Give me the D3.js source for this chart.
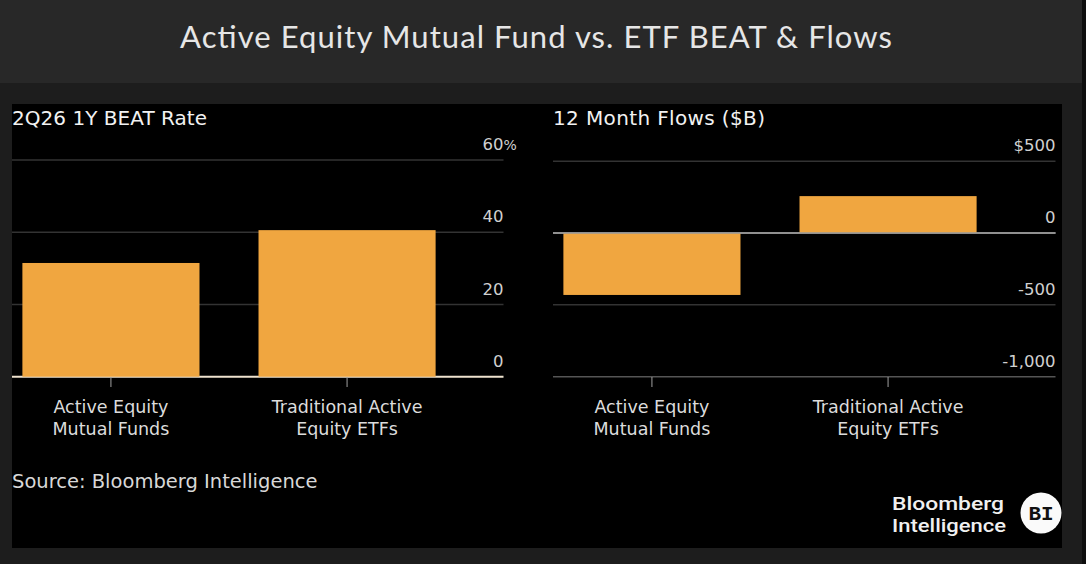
<!DOCTYPE html>
<html><head><meta charset="utf-8">
<script src="https://cdn.jsdelivr.net/npm/d3@7"></script>
<style>html,body{margin:0;padding:0;background:#1d1d1d;overflow:hidden}</style>
</head><body>
<script>
const categories = [["Active Equity","Mutual Funds"],["Traditional Active","Equity ETFs"]];
const categoryKeys = ["Active Equity Mutual Funds","Traditional Active Equity ETFs"];
const beatRate = [31.5, 40.6];
const flows = [-431, 257];
const beatTicks = [0, 20, 40, 60];
const beatTickLabels = ["0","20","40","60"];
const flowTicks = [-1000, -500, 0, 500];
const flowTickLabels = ["-1,000","-500","0","$500"];
const mainTitle = "Active Equity Mutual Fund vs. ETF BEAT & Flows";
const leftTitle = "2Q26 1Y BEAT Rate";
const rightTitle = "12 Month Flows ($B)";
const sourceText = "Source: Bloomberg Intelligence";

const W = 1086, H = 564;
const BAR = "#f0a640";
const FONT = "'DejaVu Sans', sans-serif";
const svg = d3.select("body").append("svg").attr("width", W).attr("height", H);

svg.append("rect").attr("width", W).attr("height", H).attr("fill", "#1d1d1d");
svg.append("rect").attr("width", 1082).attr("height", 83).attr("fill", "#282828");
svg.append("rect").attr("x", 1082).attr("width", 4).attr("height", H).attr("fill", "#0e0e0e");
svg.append("rect").attr("x", 12).attr("y", 104).attr("width", 1050).attr("height", 444).attr("fill", "#000");

svg.append("text").attr("x", 180).attr("y", 48)
  .attr("font-family", "Lato, 'Open Sans', sans-serif").attr("font-size", 31).attr("fill", "#e6e6e6")
  .attr("textLength", 712).attr("lengthAdjust", "spacing")
  .text(mainTitle);

function panel(opts) {
  const g = svg.append("g");
  const x = d3.scaleBand().domain(categoryKeys).range(opts.band).paddingInner(0.25).paddingOuter(0.044);
  const y = d3.scaleLinear().domain(opts.domain).range([376.7, opts.topY]);
  g.selectAll("line.grid").data(opts.ticks).join("line")
    .attr("x1", opts.band[0]).attr("x2", opts.gridEnd)
    .attr("y1", d => y(d)).attr("y2", d => y(d))
    .attr("stroke", d => opts.lineColor(d)).attr("stroke-width", d => opts.lineWidth(d));
  g.selectAll("rect.bar").data(opts.values).join("rect")
    .attr("x", (d, i) => x(categoryKeys[i])).attr("width", x.bandwidth())
    .attr("y", d => y(Math.max(0, d))).attr("height", d => Math.abs(y(d) - y(0)))
    .attr("fill", BAR);
  if (opts.zeroOnTop) {
    g.append("line").attr("x1", opts.band[0]).attr("x2", opts.gridEnd)
      .attr("y1", y(0)).attr("y2", y(0)).attr("stroke", "#9a9a9a").attr("stroke-width", 1.5);
  }
  g.selectAll("line.tick").data(categoryKeys).join("line")
    .attr("x1", d => x(d) + x.bandwidth() / 2).attr("x2", d => x(d) + x.bandwidth() / 2)
    .attr("y1", 377).attr("y2", 387).attr("stroke", "#a0a0a0").attr("stroke-width", 1);
  g.selectAll("text.yl").data(opts.ticks).join("text")
    .attr("x", opts.gridEnd).attr("y", d => y(d) - 10).attr("text-anchor", "end")
    .attr("font-family", FONT).attr("font-size", 16.5).attr("fill", "#d0d0d0")
    .text((d, i) => opts.tickLabels[i]);
  if (opts.suffix) {
    g.append("text").attr("x", opts.gridEnd).attr("y", y(opts.ticks[opts.ticks.length - 1]) - 10)
      .attr("font-family", FONT).attr("font-size", 14).attr("fill", "#d0d0d0").text(opts.suffix);
  }
  const cl = g.selectAll("text.cat").data(categories).join("text")
    .attr("text-anchor", "middle").attr("font-family", FONT).attr("font-size", 17.5).attr("fill", "#dcdcdc");
  cl.each(function(d, i) {
    const t = d3.select(this);
    const cx = x(categoryKeys[i]) + x.bandwidth() / 2;
    d.forEach((line, j) => t.append("tspan").attr("x", cx).attr("y", 413 + j * 22).text(line));
  });
  g.append("text").attr("x", opts.band[0]).attr("y", 124.5)
    .attr("font-family", FONT).attr("font-size", 20).attr("fill", "#f2f2f2")
    .attr("textLength", opts.titleLen).attr("lengthAdjust", "spacing").text(opts.title);
}

panel({
  band: [12, 446], gridEnd: 503.5, domain: [0, 60], topY: 160.1,
  ticks: beatTicks, tickLabels: beatTickLabels, values: beatRate, suffix: "%",
  title: leftTitle, titleLen: 195,
  lineColor: d => d === 0 ? "#efe3cf" : "#333333",
  lineWidth: d => d === 0 ? 2 : 1.5
});
panel({
  band: [553, 987], gridEnd: 1055.5, domain: [-1000, 500], topY: 161.2,
  ticks: flowTicks, tickLabels: flowTickLabels, values: flows, zeroOnTop: true,
  title: rightTitle, titleLen: 212,
  lineColor: d => d === 0 ? "#9a9a9a" : (d === -1000 ? "#555555" : "#333333"),
  lineWidth: d => 1.5
});

svg.append("text").attr("x", 12).attr("y", 488).attr("font-family", FONT)
  .attr("font-size", 19.5).attr("fill", "#d8d8d8").text(sourceText);

const logo = svg.append("g");
logo.append("text").attr("x", 892).attr("y", 510).attr("font-family", "Roboto, sans-serif")
  .attr("font-weight", 500).attr("font-size", 18.5).attr("fill", "#f0f0f0")
  .attr("textLength", 112).attr("lengthAdjust", "spacingAndGlyphs").text("Bloomberg");
logo.append("text").attr("x", 892).attr("y", 532).attr("font-family", "Roboto, sans-serif")
  .attr("font-weight", 500).attr("font-size", 18.5).attr("fill", "#f0f0f0")
  .attr("textLength", 114).attr("lengthAdjust", "spacingAndGlyphs").text("Intelligence");
logo.append("circle").attr("cx", 1041).attr("cy", 513).attr("r", 20.5).attr("fill", "#fafafa");
logo.append("text").attr("x", 1041).attr("y", 520).attr("text-anchor", "middle")
  .attr("font-family", "'Liberation Mono', 'DejaVu Sans Mono', monospace").attr("font-weight", "bold")
  .attr("font-size", 21).attr("fill", "#111").text("BI");
</script>
</body></html>
